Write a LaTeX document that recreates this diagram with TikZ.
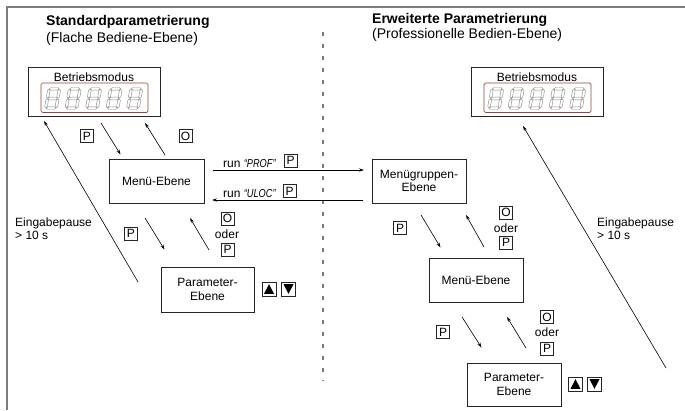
\documentclass[tikz,border=0pt]{standalone}
\usepackage{fontspec}
\usepackage{graphicx}
\setmainfont{Liberation Sans}
\usetikzlibrary{arrows.meta,calc}
\definecolor{dispred}{RGB}{150,70,70}
\definecolor{framegray}{RGB}{125,125,125}
\newcommand\mySegH[3]{\draw[segst] (#1,#3) -- (#1+1.3,#3-1.3) -- (#2-1.3,#3-1.3) -- (#2,#3) -- (#2-1.3,#3+1.3) -- (#1+1.3,#3+1.3) -- cycle;}
\newcommand\mySegV[3]{\draw[segst] (#1,#2) -- (#1+1.3,#2+1.3) -- (#1+1.3,#3-1.3) -- (#1,#3) -- (#1-1.3,#3-1.3) -- (#1-1.3,#2+1.3) -- cycle;}
\newcommand\myDigit[2]{\begin{scope}[shift={(#1,#2)}, xslant=0.17]
 \mySegH{1.7}{11.3}{1.3}
 \mySegH{1.7}{11.3}{11}
 \mySegH{1.7}{11.3}{20.7}
 \mySegV{1.3}{1.7}{10.6}
 \mySegV{11.7}{1.7}{10.6}
 \mySegV{1.3}{11.4}{20.3}
 \mySegV{11.7}{11.4}{20.3}
\end{scope}}
\newcommand\myDisplay[1]{%
 \draw[dispred, line width=0.7, rounded corners=1.5] (#1+13,83) rectangle (#1+120,112.5);
 \foreach \myi in {0,...,4}{\myDigit{#1+20+20.5*\myi}{87.5}}}
\newcommand\myUpTri[1]{\fill ($(#1.center)+(-5,4.8)$) -- ($(#1.center)+(5,4.8)$) -- ($(#1.center)+(0,-4.8)$) -- cycle;}
\newcommand\myDownTri[1]{\fill ($(#1.center)+(-5,-4.8)$) -- ($(#1.center)+(5,-4.8)$) -- ($(#1.center)+(0,4.8)$) -- cycle;}
\begin{document}
\begin{tikzpicture}[x=1pt,y=-1pt,
 box/.style={draw=black!85, line width=0.8, fill=white, align=center, font=\fontsize{12}{13.5}\selectfont, inner sep=0},
 key/.style={draw=black!85, line width=0.7, minimum width=13, minimum height=13, inner sep=0, font=\fontsize{12}{12}\selectfont},
 arrkey/.style={draw=black!85, line width=0.7, minimum width=14, minimum height=14, inner sep=0},
 txt/.style={font=\fontsize{12}{13.5}\selectfont, inner sep=0},
 ttl/.style={font=\fontsize{14}{16}\selectfont, inner sep=0, anchor=west},
 runlbl/.style={font=\fontsize{12}{12}\selectfont, inner sep=0, anchor=west},
 con/.style={line width=0.6, -{Stealth[length=5pt,width=3.2pt]}},
 segst/.style={draw=black!45, line width=0.45}]
\useasboundingbox (0,0) rectangle (685,410);
% frame
\draw[framegray, line width=1.2] (7,410) -- (7,7) -- (685,7);
\draw[framegray, line width=1.4, dash pattern=on 3.5pt off 8.5pt] (323,32) -- (323,381);
% titles
\node[ttl] (t1) at (46,22) {\bfseries Standardparametrierung};
\node[ttl] (t1b) at (46,38.5) {(Flache Bediene-Ebene)};
\node[ttl] (t2) at (372,19.5) {\bfseries Erweiterte Parametrierung};
\node[ttl] (t2b) at (372,35) {(Professionelle Bedien-Ebene)};
% left side
\node[box, minimum width=132, minimum height=49] (bm1) at (94,91.5) {};
\node[txt] (bm1t) at (94,77) {Betriebsmodus};
\myDisplay{28}
\node[box, minimum width=95, minimum height=44] (me1) at (156.5,181) {Menü-Ebene};
\node[box, minimum width=93, minimum height=45] (pe1) at (207.5,289.5) {Parameter-\\Ebene};
% right side
\node[box, minimum width=132, minimum height=49] (bm2) at (537,91.5) {};
\node[txt] (bm2t) at (537,77) {Betriebsmodus};
\myDisplay{471}
\node[box, minimum width=94, minimum height=44] (mg) at (419,181) {Menügruppen-\\Ebene};
\node[box, minimum width=94, minimum height=44] (me2) at (476,280) {Menü-Ebene};
\node[box, minimum width=94, minimum height=43] (pe2) at (514,384.5) {Parameter-\\Ebene};
% connector end points
\coordinate (a1s) at (101,123); \coordinate (a1e) at (120.5,154.5);
\coordinate (a2s) at (165,155); \coordinate (a2e) at (145,123);
\coordinate (a3s) at (145,218); \coordinate (a3e) at (164.5,249.5);
\coordinate (a4s) at (209,250); \coordinate (a4e) at (190,218);
\coordinate (l1s) at (138,282); \coordinate (l1e) at (44,121);
\coordinate (b1s) at (421,215); \coordinate (b1e) at (440.5,247.5);
\coordinate (b2s) at (484,247); \coordinate (b2e) at (466,215);
\coordinate (b3s) at (462,317); \coordinate (b3e) at (481.5,347.5);
\coordinate (b4s) at (526,348); \coordinate (b4e) at (507,317);
\coordinate (l2s) at (666,368); \coordinate (l2e) at (523,126);
\coordinate (profs) at (213,170); \coordinate (profe) at (364,170);
\coordinate (ulocs) at (363,200); \coordinate (uloce) at (212,200);
\draw[con] (a1s) -- (a1e);
\draw[con] (a2s) -- (a2e);
\draw[con] (a3s) -- (a3e);
\draw[con] (a4s) -- (a4e);
\draw[con] (l1s) -- (l1e);
\draw[con] (b1s) -- (b1e);
\draw[con] (b2s) -- (b2e);
\draw[con] (b3s) -- (b3e);
\draw[con] (b4s) -- (b4e);
\draw[con] (l2s) -- (l2e);
\draw[con] (profs) -- (profe);
\draw[con] (ulocs) -- (uloce);
% keys left
\node[key] (k1) at (87,136) {P};
\node[key] (k2) at (185.5,136) {O};
\node[key] (k3) at (131,233.5) {P};
\node[key] (k4) at (227.5,218.5) {O};
\node[txt] (od1) at (227,234.5) {oder};
\node[key] (k5) at (227.5,249.5) {P};
\node[txt, anchor=west, align=left] (ep1) at (15,228.5) {Eingabepause\\> 10 s};
\node[arrkey] (up1) at (269,289) {}; \myUpTri{up1}
\node[arrkey] (dn1) at (288.5,289) {}; \myDownTri{dn1}
% run labels
\node[runlbl] (r1) at (223,163.5) {run \scalebox{0.8}[1]{\fontsize{11.5}{11.5}\selectfont\itshape “PROF”}};
\node[key] (k6) at (290.5,160.5) {P};
\node[runlbl] (r2) at (223,193.5) {run \scalebox{0.8}[1]{\fontsize{11.5}{11.5}\selectfont\itshape “ULOC”}};
\node[key] (k7) at (289.5,191) {P};
% keys right
\node[key] (k8) at (400,228) {P};
\node[key] (k9) at (506,212.5) {O};
\node[txt] (od2) at (506,228.5) {oder};
\node[key] (k10) at (506,242.5) {P};
\node[txt, anchor=west, align=left] (ep2) at (597,228.5) {Eingabepause\\> 10 s};
\node[key] (k11) at (443,332) {P};
\node[key] (k12) at (547,317) {O};
\node[txt] (od3) at (547,332.5) {oder};
\node[key] (k13) at (547,348.5) {P};
\node[arrkey] (up2) at (575.5,384) {}; \myUpTri{up2}
\node[arrkey] (dn2) at (594.5,384) {}; \myDownTri{dn2}
\end{tikzpicture}
\end{document}
